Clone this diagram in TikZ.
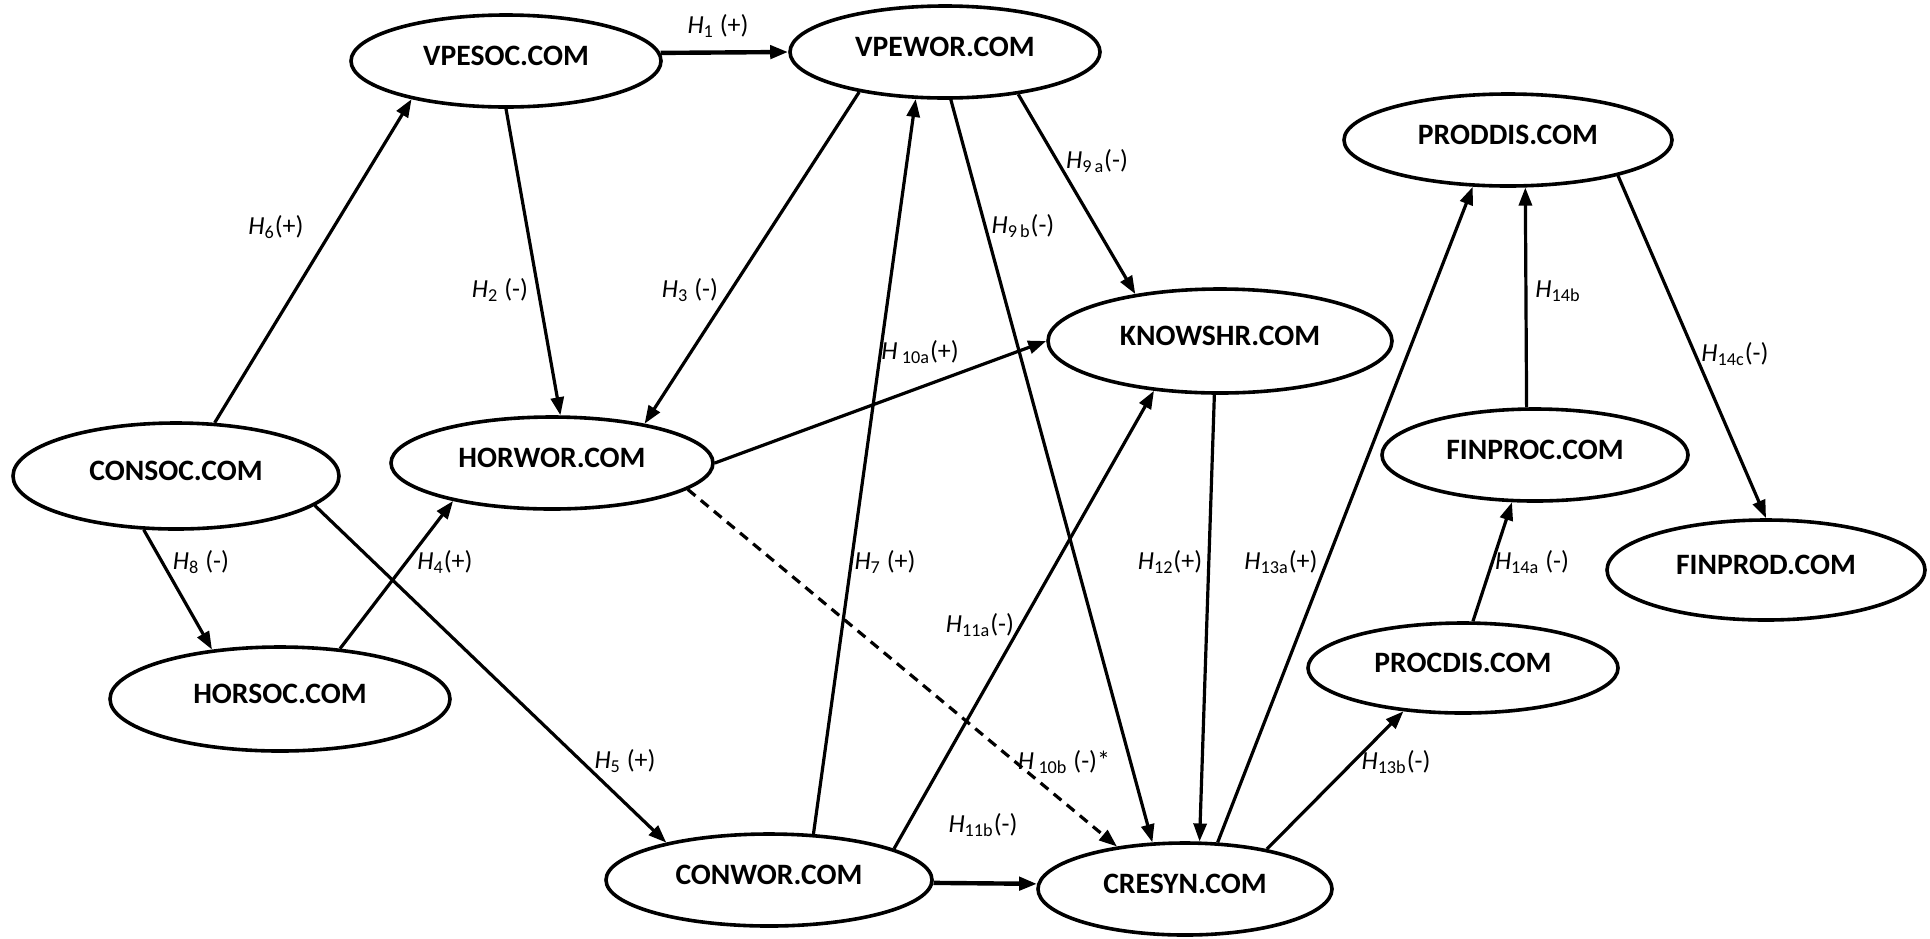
\documentclass[tikz,border=0pt]{standalone}
\usepackage{fontspec}
\setmainfont{Carlito}
\usetikzlibrary{arrows.meta,shapes.geometric}

% hypothesis label: italic H with an upright subscript
\newcommand{\hyplab}[2]{\textit{H}\textsubscript{#1}#2}

\tikzset{
  construct/.style={draw, ellipse, line width=1.8pt, inner sep=0pt,
    font=\fontsize{14.8}{17}\selectfont\bfseries, text depth=5pt},
  link/.style={line width=1.6pt, -{Triangle[length=9pt,width=6.5pt]}},
  heavylink/.style={link, line width=2.2pt},
  nulllink/.style={link, dash pattern=on 5pt off 3.5pt},
  hyp/.style={font=\fontsize{13}{15}\selectfont, inner sep=0pt},
}

\begin{document}
\begin{tikzpicture}[x=0.5pt, y=-0.5pt]
\useasboundingbox (0,0) rectangle (1930,938);

% constructs
\node[construct, minimum width=155pt, minimum height=46pt] (vpesoc)  at (506,61)   {VPESOC.COM};
\node[construct, minimum width=155pt, minimum height=46pt] (vpewor)  at (945,52)   {VPEWOR.COM};
\node[construct, minimum width=161pt, minimum height=46pt] (horwor)  at (552,463)  {HORWOR.COM};
\node[construct, minimum width=163pt, minimum height=53pt] (consoc)  at (176,476)  {CONSOC.COM};
\node[construct, minimum width=170pt, minimum height=52pt] (horsoc)  at (280,699)  {HORSOC.COM};
\node[construct, minimum width=163pt, minimum height=46pt] (conwor)  at (769,880)  {CONWOR.COM};
\node[construct, minimum width=172pt, minimum height=52pt] (knowshr) at (1220,341) {KNOWSHR.COM};
\node[construct, minimum width=164pt, minimum height=46pt] (proddis) at (1508,140) {PRODDIS.COM};
\node[construct, minimum width=153pt, minimum height=46pt] (finproc) at (1535,455) {FINPROC.COM};
\node[construct, minimum width=159pt, minimum height=50pt] (finprod) at (1766,570) {FINPROD.COM};
\node[construct, minimum width=155pt, minimum height=45pt] (procdis) at (1463,668) {PROCDIS.COM};
\node[construct, minimum width=147pt, minimum height=46pt] (cresyn)  at (1185,889) {CRESYN.COM};

% paths
\draw[heavylink] (vpesoc.3.3) -- (vpewor.180);
\draw[link] (consoc.54) -- (vpesoc.202);
\draw[link] (vpesoc.270) -- (horwor.80.5);
\draw[link] (vpewor.205.5) -- (horwor.23.8);
\draw[link] (horwor.0) -- (knowshr.180.7);
\draw[link] (conwor.46) -- (vpewor.238);
\draw[link] (vpewor.277) -- (cresyn.125);
\draw[link] (vpewor.330.6) -- (knowshr.151);
\draw[link] (conwor.14.8) -- (knowshr.217.6);
\draw[heavylink] (conwor.-1.4) -- (cresyn.178);
\draw[link] (consoc.348.5) -- (conwor.160.8);
\draw[link] (consoc.239) -- (horsoc.144.5);
\draw[link] (horsoc.40) -- (horwor.201.5);
\draw[nulllink] (horwor.349.6) -- (cresyn.148.4);
\draw[link] (knowshr.264) -- (cresyn.73);
\draw[link] (cresyn.55.8) -- (proddis.233.3);
\draw[link] (cresyn.26.6) -- (procdis.216.6);
\draw[link] (procdis.78) -- (finproc.244);
\draw[link] (finproc.100.6) -- (proddis.290);
\draw[link] (proddis.342) -- (finprod.90.5);

% hypothesis labels
\node[hyp] (h1)   at (718,26)   {\hyplab{1}{ (+)}};
\node[hyp] (h6)   at (276,227)  {\hyplab{6}{(+)}};
\node[hyp] (h2)   at (500,290)  {\hyplab{2}{ (-)}};
\node[hyp] (h3)   at (690,290)  {\hyplab{3}{ (-)}};
\node[hyp] (h10a) at (920,352)  {\textit{H}\,\textsubscript{10a}(+)};
\node[hyp] (h7)   at (885,562)  {\hyplab{7}{ (+)}};
\node[hyp] (h9b)  at (1023,226) {\hyplab{9\,b}{(-)}};
\node[hyp] (h9a)  at (1097,161) {\hyplab{9\,a}{(-)}};
\node[hyp] (h11a) at (980,625)  {\hyplab{11a}{(-)}};
\node[hyp] (h11b) at (983,825)  {\hyplab{11b}{(-)}};
\node[hyp] (h5)   at (625,761)  {\hyplab{5}{ (+)}};
\node[hyp] (h8)   at (201,562)  {\hyplab{8}{ (-)}};
\node[hyp] (h4)   at (445,562)  {\hyplab{4}{(+)}};
\node[hyp] (h10b) at (1064,762) {\textit{H}\,\textsubscript{10b} (-)*};
\node[hyp] (h12)  at (1170,562) {\hyplab{12}{(+)}};
\node[hyp] (h13a) at (1281,562) {\hyplab{13a}{(+)}};
\node[hyp] (h13b) at (1396,762) {\hyplab{13b}{(-)}};
\node[hyp] (h14a) at (1532,562) {\hyplab{14a}{ (-)}};
\node[hyp] (h14b) at (1558,291) {\hyplab{14b}{}};
\node[hyp] (h14c) at (1735,354) {\hyplab{14c}{(-)}};
\end{tikzpicture}
\end{document}
